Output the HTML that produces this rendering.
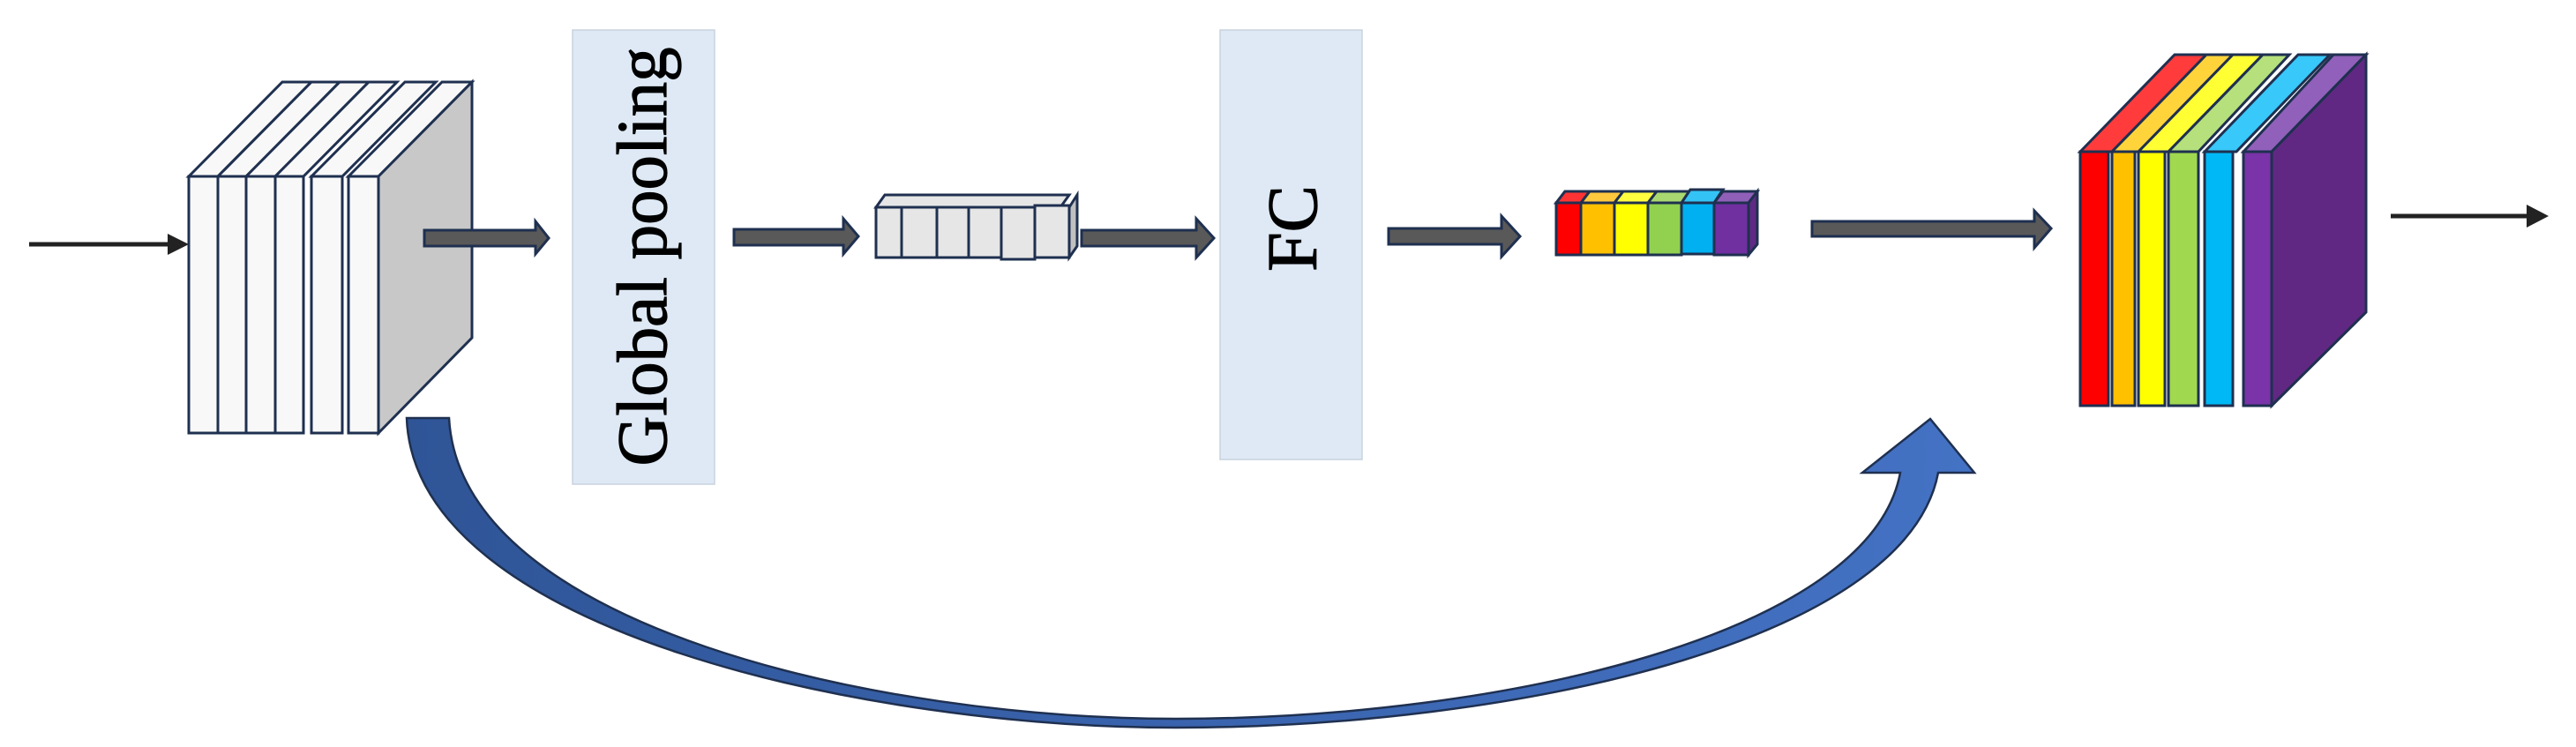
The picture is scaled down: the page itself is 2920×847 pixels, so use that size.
<!DOCTYPE html>
<html><head><meta charset="utf-8"><style>html,body{margin:0;padding:0;background:#fff}svg{display:block}
.lbl{font-family:"Liberation Serif","Times New Roman",serif;font-size:80px;fill:#000;stroke:#000;stroke-width:1.2px}</style></head>
<body>
<svg width="2920" height="847" viewBox="0 0 2920 847" xmlns="http://www.w3.org/2000/svg">
<defs>
<linearGradient id="cg" x1="0" y1="0" x2="1" y2="0">
<stop offset="0" stop-color="#2F5597"/><stop offset="1" stop-color="#4472C4"/>
</linearGradient>
</defs>
<g stroke="#1F3050" stroke-width="3" stroke-linejoin="miter">
<line x1="33" y1="277" x2="198" y2="277" stroke="#222" stroke-width="5"/>
<path d="M190,265 L214,277 L190,289 Z" fill="#222" stroke="none"/>

<g fill="#F8F8F8">
<polygon points="214,200 320,93 353,93 247,200"/>
<rect x="214" y="200" width="33" height="291"/>
<polygon points="247,200 353,93 385,93 279,200"/>
<rect x="247" y="200" width="32" height="291"/>
<polygon points="279,200 385,93 418,93 312,200"/>
<rect x="279" y="200" width="33" height="291"/>
<polygon points="312,200 418,93 450,93 344,200"/>
<rect x="312" y="200" width="32" height="291"/>
<polygon points="353,200 459,93 494,93 388,200"/>
<rect x="353" y="200" width="35" height="291"/>
<polygon points="395,200 501,93 535,93 429,200"/>
<rect x="395" y="200" width="34" height="291"/>
</g>
<polygon points="429,200 535,93 535,383 429,491" fill="#C8C8C8"/>

<path d="M481,261 L607,261 L607,251 L622,270 L607,288 L607,279 L481,279 Z" fill="#595959"/>

<rect x="649" y="34" width="161" height="515" fill="#DEE9F5" stroke="#C9D3DE" stroke-width="1.5"/>

<path d="M832,260 L956,260 L956,248 L973,268 L956,288 L956,278 L832,278 Z" fill="#595959"/>

<g fill="#E6E6E6">
<polygon points="993,235 1003,221 1212,221 1202,235"/>
<polygon points="1212,235 1221,221 1221,279 1212,292" fill="#C0C0C0"/>
<rect x="993" y="235" width="29" height="57"/>
<rect x="1022" y="235" width="40" height="57"/>
<rect x="1062" y="235" width="36" height="57"/>
<rect x="1098" y="235" width="37" height="57"/>
<rect x="1135" y="235" width="38" height="59"/>
<rect x="1173" y="233" width="39" height="59"/>
</g>

<path d="M1226,261 L1356,261 L1356,248 L1376,270 L1356,292 L1356,279 L1226,279 Z" fill="#595959"/>

<rect x="1383" y="34" width="161" height="487" fill="#DEE9F5" stroke="#C9D3DE" stroke-width="1.5"/>

<path d="M1574,259 L1702,259 L1702,245 L1723,268 L1702,291 L1702,277 L1574,277 Z" fill="#595959"/>

<polygon points="1764,230 1774,217 1992,217 1982,230" fill="#E0E0E0"/>
<polygon points="1764,230 1774,217 1802,217 1792,230" fill="#FF3333"/>
<polygon points="1792,230 1802,217 1840,217 1830,230" fill="#FFC83D"/>
<polygon points="1830,230 1840,217 1878,217 1868,230" fill="#FFFF40"/>
<polygon points="1868,230 1878,217 1916,217 1906,230" fill="#A9D870"/>
<polygon points="1906,230 1916,215 1953,215 1943,230" fill="#33C4F5"/>
<polygon points="1943,230 1953,217 1992,217 1982,230" fill="#9060B8"/>
<polygon points="1982,230 1992,217 1992,277 1982,289" fill="#5E2A84"/>
<rect x="1764" y="230" width="28" height="59" fill="#FF0000"/>
<rect x="1792" y="230" width="38" height="59" fill="#FFC000"/>
<rect x="1830" y="230" width="38" height="59" fill="#FFFF00"/>
<rect x="1868" y="230" width="38" height="59" fill="#92D050"/>
<rect x="1906" y="230" width="37" height="58" fill="#00B0F0"/>
<rect x="1943" y="230" width="39" height="59" fill="#7030A0"/>

<path d="M2054,251 L2306,251 L2306,239 L2325,259 L2306,281 L2306,268 L2054,268 Z" fill="#595959"/>

<polygon points="2358,172 2465,62 2501,62 2394,172" fill="#FF3B3B"/>
<rect x="2358" y="172" width="32" height="288" fill="#FF0000"/>
<polygon points="2394,172 2501,62 2531,62 2424,172" fill="#FFD43B"/>
<rect x="2394" y="172" width="26" height="288" fill="#FFC000"/>
<polygon points="2424,172 2531,62 2565,62 2458,172" fill="#FFFF33"/>
<rect x="2424" y="172" width="30" height="288" fill="#FFFF00"/>
<polygon points="2458,172 2565,62 2595,62 2492,172" fill="#B5E07C"/>
<rect x="2458" y="172" width="34" height="288" fill="#A0D850"/>
<polygon points="2499,172 2605,62 2641,62 2535,172" fill="#38C8FA"/>
<rect x="2499" y="172" width="32" height="288" fill="#00B8F5"/>
<polygon points="2543,172 2645,62 2682,62 2575,172" fill="#9160BA"/>
<rect x="2543" y="172" width="32" height="288" fill="#7A33A8"/>
<polygon points="2575,172 2682,62 2682,354 2575,460" fill="#612883"/>

<line x1="2710" y1="245" x2="2870" y2="245" stroke="#222" stroke-width="5"/>
<path d="M2864,232 L2889,245 L2864,258 Z" fill="#222" stroke="none"/>

<path d="M461,474 L509,474 C522,712 1000,815 1333,815 C1700,815 2120,720 2154,536 L2111,536 L2188,475 L2238,536 L2197,536 C2160,730 1710,825 1333,825 C990,825 470,718 461,474 Z" fill="url(#cg)" stroke-width="2.5"/>
</g>

<text class="lbl" transform="translate(755,291) rotate(-90)" text-anchor="middle" textLength="475" lengthAdjust="spacingAndGlyphs">Global pooling</text>
<text class="lbl" transform="translate(1492,259) rotate(-90)" text-anchor="middle">FC</text>
</svg>
</body></html>
